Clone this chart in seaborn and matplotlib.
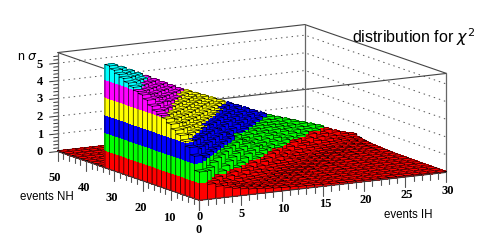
import numpy as np
import matplotlib
matplotlib.use('Agg')
import matplotlib.pyplot as plt
import seaborn as sns

sns.set_theme(style='white')
plt.rcParams['font.family'] = ['Liberation Sans', 'DejaVu Sans']
plt.rcParams['mathtext.fontset'] = 'dejavusans'

# contour level colours, one per unit of n sigma
level_colors = sns.color_palette(['#ff0000', '#00ff00', '#0000ff', '#ffff00', '#ff00ff', '#00ffff'])

ih_edges = np.arange(0, 31, 1.0)
nh_edges = np.linspace(0, 50, 31)

ih_ticks = [0, 5, 10, 15, 20, 25, 30]
nh_ticks = [0, 10, 20, 30, 40, 50]
z_ticks = [0, 1, 2, 3, 4, 5]

# n sigma, one row per NH bin, one column per IH bin
n_sigma_low = [
    [1.6, .85, .68, .54, .45, .38, .32, .28, .24, .21, .19, .17, .15, .14, .13, .12, .11, .1, .1, .09, .09, .08, .08, .07, .07, .07, .06, .06, .06, .05],
    [2.4, 1.5, .9, .7, .55, .45, .38, .32, .27, .24, .21, .19, .17, .15, .14, .13, .12, .11, .1, .1, .09, .09, .08, .08, .07, .07, .07, .06, .06, .06],
    [2.8, 2.15, 1.55, .97, .72, .55, .44, .35, .29, .24, .2, .18, .16, .14, .13, .12, .11, .1, .1, .09, .09, .08, .08, .08, .07, .07, .07, .06, .06, .06],
    [3.05, 2.55, 2.15, 1.7, 1.15, .82, .62, .49, .39, .32, .26, .22, .19, .17, .15, .14, .12, .11, .11, .1, .09, .09, .08, .08, .07, .07, .07, .07, .06, .06],
    [3.3, 2.9, 2.55, 2.2, 1.8, 1.3, .9, .68, .53, .42, .34, .28, .24, .2, .18, .16, .14, .13, .12, .11, .1, .09, .09, .08, .08, .07, .07, .07, .06, .06],
    [3.5, 3.15, 2.85, 2.5, 2.2, 1.82, 1.42, 1.02, .78, .6, .47, .37, .3, .25, .21, .18, .16, .14, .13, .12, .11, .1, .09, .09, .08, .08, .07, .07, .07, .06],
    [3.75, 3.45, 3.15, 2.8, 2.5, 2.2, 1.85, 1.5, 1.13, .83, .63, .5, .39, .32, .26, .22, .19, .17, .15, .14, .13, .12, .11, .1, .09, .09, .08, .08, .07, .07],
    [3.95, 3.65, 3.35, 3.1, 2.8, 2.5, 2.2, 1.9, 1.57, 1.25, .93, .7, .54, .43, .35, .28, .24, .2, .17, .15, .14, .13, .12, .11, .1, .09, .09, .08, .08, .07],
    [4.05, 3.75, 3.5, 3.25, 3.05, 2.75, 2.5, 2.2, 1.9, 1.6, 1.35, 1.05, .8, .6, .47, .37, .3, .25, .21, .18, .16, .14, .13, .12, .11, .1, .09, .09, .08, .08],
    [4.2, 3.95, 3.7, 3.47, 3.23, 3.0, 2.73, 2.47, 2.2, 1.93, 1.66, 1.39, 1.12, .85, .64, .5, .4, .32, .27, .22, .19, .17, .15, .14, .13, .12, .11, .1, .09, .08],
]
n_sigma_high = [
    [4.4, 4.15, 3.9, 3.66, 3.43, 3.2, 2.98, 2.72, 2.46, 2.2, 1.95, 1.7, 1.45, 1.2, .95, .72, .56, .44, .35, .29, .24, .2, .18, .16, .14, .13, .12, .11, .1, .09],
    [4.65, 4.4, 4.1, 3.82, 3.58, 3.35, 3.12, 2.85, 2.55, 2.26, 1.98, 1.78, 1.58, 1.38, 1.18, .98, .74, .57, .45, .36, .29, .24, .2, .18, .16, .14, .13, .12, .11, .1],
    [4.85, 4.6, 4.35, 4.0, 3.77, 3.55, 3.32, 3.1, 2.83, 2.55, 2.26, 1.98, 1.79, 1.6, 1.4, 1.21, 1.02, .78, .6, .47, .38, .31, .25, .21, .18, .16, .15, .13, .12, .11],
    [4.95, 4.72, 4.47, 4.2, 3.95, 3.73, 3.5, 3.28, 3.06, 2.8, 2.55, 2.27, 2.02, 1.83, 1.65, 1.46, 1.28, 1.09, .87, .66, .52, .41, .33, .27, .23, .19, .17, .15, .14, .12],
    [5.1, 4.85, 4.6, 4.36, 4.12, 3.9, 3.68, 3.47, 3.26, 3.05, 2.82, 2.57, 2.33, 2.07, 1.88, 1.7, 1.52, 1.34, 1.16, .98, .74, .57, .45, .36, .29, .24, .2, .18, .16, .14],
    [5.25, 5.02, 4.78, 4.55, 4.31, 4.07, 3.85, 3.65, 3.44, 3.23, 3.03, 2.79, 2.55, 2.31, 2.07, 1.86, 1.69, 1.52, 1.34, 1.17, 1.0, .76, .58, .46, .37, .3, .25, .21, .18, .16],
    [5.42, 5.19, 4.95, 4.71, 4.48, 4.24, 4.0, 3.8, 3.6, 3.4, 3.2, 3.0, 2.77, 2.55, 2.32, 2.09, 1.9, 1.74, 1.57, 1.41, 1.25, 1.08, .87, .67, .52, .41, .33, .27, .23, .19],
    [5.55, 5.35, 5.12, 4.88, 4.65, 4.41, 4.18, 3.96, 3.76, 3.57, 3.37, 3.18, 2.98, 2.76, 2.54, 2.33, 2.11, 1.91, 1.75, 1.6, 1.44, 1.29, 1.13, .96, .74, .57, .45, .36, .29, .24],
    [5.7, 5.5, 5.28, 5.05, 4.81, 4.58, 4.35, 4.12, 3.91, 3.72, 3.53, 3.34, 3.15, 2.96, 2.75, 2.55, 2.34, 2.13, 1.93, 1.78, 1.62, 1.47, 1.32, 1.17, 1.02, .78, .6, .47, .38, .31],
    [5.85, 5.65, 5.43, 5.2, 4.98, 4.75, 4.52, 4.3, 4.07, 3.89, 3.7, 3.52, 3.33, 3.13, 2.94, 2.75, 2.55, 2.35, 2.16, 1.97, 1.82, 1.67, 1.52, 1.37, 1.22, 1.07, .85, .67, .52, .42],
]
# everything behind the ridge stays on the floor
n_sigma_floor = [.05, .05, .05, .05, .05, .05, .05, .05, .05, .05, .05, .05, .05, .05, .05,
                 .05, .05, .05, .05, .05, .05, .05, .05, .05, .05, .05, .05, .05, .05, .05]
n_sigma = np.array(n_sigma_low + n_sigma_high + [n_sigma_floor] * 10)

fig = plt.figure(figsize=(4.91, 2.43), dpi=100, facecolor='white')
# square axes wider than the figure is tall, so the box keeps its scale
ax = fig.add_axes([0, -0.5004, 1, 491 / 243], projection='3d', proj_type='ortho', computed_zorder=False)
ax.set_xlim(0, 30, view_margin=0)
ax.set_ylim(0, 50, view_margin=0)
ax.set_zlim(0, 5.6, view_margin=0)
ax.set_box_aspect((285, 285, 101), zoom=0.821)
ax.view_init(elev=11.4, azim=-119.8)
ax.set_axis_off()
ax.patch.set_alpha(0)

x0, x1, y0, y1, z1 = 0, 30, 0, 50, 5.6

# box behind the bars
frame = dict(color='#444444', lw=0.8, zorder=-5)
ax.plot([x0, x1, x1], [y1, y1, y0], [z1, z1, z1], **frame)
ax.plot([x0, x0, x1], [y1, y0, y0], [z1, z1, z1], **frame)
ax.plot([x0, x1, x1], [y1, y1, y0], [0, 0, 0], **frame)
for vx, vy in [(x0, y1), (x1, y1), (x1, y0)]:
    ax.plot([vx, vx], [vy, vy], [0, z1], color='#666666', lw=0.9, zorder=-5)
for z in z_ticks:
    ax.plot([x0, x1, x1], [y1, y1, y0], [z, z, z], color='#555555', lw=0.7, ls=(0, (1.5, 4)), zorder=-6)

# lego columns from the back to the front, each cut at the contour levels
order = 0
for j in range(len(nh_edges) - 2, -1, -1):
    for i in range(len(ih_edges) - 2, -1, -1):
        order += 1
        h = n_sigma[j, i]
        xa, xb = ih_edges[i], ih_edges[i + 1]
        ya, yb = nh_edges[j], nh_edges[j + 1]
        top_level = min(int(h), 5)
        bottoms = np.arange(top_level + 1, dtype=float)
        heights = np.append(np.ones(top_level), h - top_level)
        ax.bar3d(np.full(top_level + 1, xa), np.full(top_level + 1, ya), bottoms,
                 xb - xa, yb - ya, heights,
                 color=[level_colors[k] for k in range(top_level + 1)],
                 shade=False, linewidth=0, antialiased=False, zorder=order)
        nan = np.nan
        ax.plot([xa, xb, xb, xa, xa, nan, xa, xa, nan, xb, xb, nan, xa, xa],
                [ya, ya, yb, yb, ya, nan, ya, ya, nan, ya, ya, nan, yb, yb],
                [h, h, h, h, h, nan, 0, h, nan, 0, h, nan, 0, h],
                color='black', lw=0.45, zorder=order + 0.5)

# axis lines and ticks in front
axis_line = dict(color='#333333', lw=0.8, zorder=5000)
ax.plot([x0, x0, x1], [y1, y0, y0], [0, 0, 0], **axis_line)
tick = dict(color='#555555', lw=0.8, zorder=5000)
for v in np.arange(0, 51, 2):
    ax.plot([0, 0], [v, v], [0, -0.55 if v % 10 == 0 else -0.3], **tick)
for v in np.arange(0, 31, 1):
    ax.plot([v, v], [0, 0], [0, -0.55 if v % 5 == 0 else -0.3], **tick)
for v in np.arange(0, 5.5, 0.2):
    is_major = abs(v - round(v)) < 1e-6
    ax.plot([0, -1.0 if is_major else -0.5], [50, 50], [v, v], color='#333333', lw=0.7, zorder=5000)


def label(px, py, s, **kw):
    fig.text(px / 491, 1 - py / 243, s, ha='center', va='center', color='black', **kw)


tick_font = dict(family=['Liberation Serif', 'DejaVu Serif'], fontsize=9, fontweight='bold')
for v, (px, py) in zip(nh_ticks, [(200, 216.5), (169, 218), (141, 208), (112, 198), (84, 188), (55, 178)]):
    label(px, py, str(v), **tick_font)
for v, (px, py) in zip(ih_ticks, [(199, 229.5), (242, 214), (283, 209), (325, 204), (366, 200), (407, 195), (448, 191)]):
    label(px, py, str(v), **tick_font)
for v, py in zip(z_ticks, [152, 134.5, 117, 99, 82, 65]):
    label(40, py, str(v), **tick_font)

label(47, 197, 'events NH', fontsize=8.3)
label(408, 215, 'events IH', fontsize=8.3)
label(27, 57, r'n $\sigma$', fontsize=9)
label(414, 37, r'distribution for $\chi^2$', fontsize=11.5)

fig.savefig('out.png', dpi=100, facecolor='white')
